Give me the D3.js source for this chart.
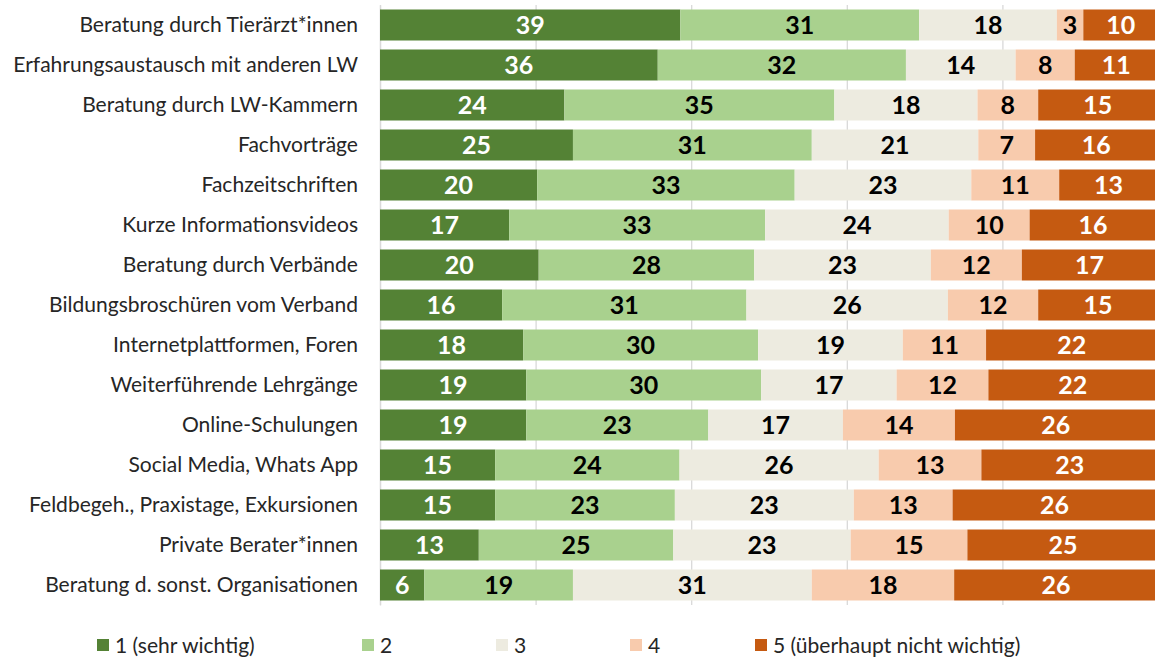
<!DOCTYPE html>
<html><head><meta charset="utf-8">
<script src="https://cdn.jsdelivr.net/npm/d3@7"></script>
<style>body{margin:0;background:#fff}svg{display:block}</style>
</head><body>
<svg id="chart" width="1155" height="659"></svg>
<script>
const categories = [
  "Beratung durch Tierärzt*innen",
  "Erfahrungsaustausch mit anderen LW",
  "Beratung durch LW-Kammern",
  "Fachvorträge",
  "Fachzeitschriften",
  "Kurze Informationsvideos",
  "Beratung durch Verbände",
  "Bildungsbroschüren vom Verband",
  "Internetplattformen, Foren",
  "Weiterführende Lehrgänge",
  "Online-Schulungen",
  "Social Media, Whats App",
  "Feldbegeh., Praxistage, Exkursionen",
  "Private Berater*innen",
  "Beratung d. sonst. Organisationen"
];
const levels = ["1 (sehr wichtig)", "2", "3", "4", "5 (überhaupt nicht wichtig)"];
// percentages (labels show rounded values)
const s1 = [38.6, 35.7, 23.7, 24.8, 20.2, 16.6, 20.4, 15.7, 18.4, 18.8, 18.8, 14.8, 14.8, 12.7, 5.7];
const s2 = [30.7, 31.9, 34.7, 30.7, 33.1, 32.9, 27.7, 31.4, 30.2, 30.2, 23.4, 23.7, 23.1, 25.0, 19.1];
const s3 = [17.7, 14.1, 18.4, 21.4, 22.7, 23.6, 22.7, 25.9, 18.6, 17.4, 17.3, 25.6, 23.0, 22.8, 30.7];
const s4 = [3.4, 7.6, 7.8, 7.3, 11.3, 10.4, 11.7, 11.6, 10.7, 11.8, 14.4, 13.2, 12.7, 15.0, 18.3];
const s5 = [9.6, 10.7, 15.3, 15.7, 12.7, 16.3, 17.4, 15.4, 22.0, 21.7, 25.9, 22.7, 26.2, 24.6, 26.2];
const xTicks = [0, 20, 40, 60, 80, 100];

const colors = ["#548235", "#A9D18E", "#EDEBE0", "#F8CBAD", "#C55A11"];
const labelColors = ["#ffffff", "#000000", "#000000", "#000000", "#ffffff"];
const FONT = "Lato, 'Open Sans', sans-serif";

const series = [s1, s2, s3, s4, s5];
const rows = categories.map((c, i) => {
  const r = {cat: c};
  levels.forEach((k, j) => r[k] = series[j][i]);
  return r;
});
const stacked = d3.stack().keys(levels)(rows);

const svg = d3.select("#chart");

function fitSize(text, target, weight) {
  const t = svg.append("text").attr("font-family", FONT).attr("font-size", 100)
    .attr("font-weight", weight).text(text);
  const w = t.node().getComputedTextLength();
  t.remove();
  return 100 * target / w;
}
const catSize = fitSize("Erfahrungsaustausch mit anderen LW", 345, 400);
const valSize = fitSize("39", 29, 700);

const x = d3.scaleLinear().domain([0, 100]).range([380, 1158]);
const y = d3.scaleBand().domain(categories).range([5, 605])
  .paddingInner(0.225).paddingOuter(0.1125);

// gridlines
const grid = svg.append("g").attr("transform", "translate(0,605)")
  .call(d3.axisBottom(x).tickValues(xTicks).tickSize(-600).tickFormat(""));
grid.select(".domain").remove();
grid.selectAll(".tick line").attr("stroke", "#D9D9D9").attr("stroke-width", 1.3);

// y axis
const yAxis = svg.append("g").attr("transform", "translate(380,0)")
  .call(d3.axisLeft(y).tickSize(0).tickPadding(22));
yAxis.select(".domain").attr("stroke", "#D9D9D9").attr("stroke-width", 1.3);
yAxis.selectAll("text").attr("font-family", FONT).attr("font-size", catSize)
  .attr("fill", "#262626");

// bars
const layers = svg.append("g").selectAll("g").data(stacked).join("g")
  .attr("fill", (d, i) => colors[i]);
layers.selectAll("rect").data(d => d).join("rect")
  .attr("x", d => x(d[0]))
  .attr("y", d => y(d.data.cat))
  .attr("width", d => x(d[1]) - x(d[0]))
  .attr("height", y.bandwidth());

// value labels
const lab = svg.append("g").selectAll("g").data(stacked).join("g")
  .attr("fill", (d, i) => labelColors[i]);
lab.selectAll("text").data(d => d).join("text")
  .attr("x", d => (x(d[0]) + x(d[1])) / 2)
  .attr("y", d => y(d.data.cat) + y.bandwidth() / 2)
  .attr("dy", "0.36em")
  .attr("text-anchor", "middle")
  .attr("font-family", FONT).attr("font-weight", 700).attr("font-size", valSize)
  .text(d => Math.round(d[1] - d[0]));

// legend
const legendX = [97, 362, 496, 630, 755];
const leg = svg.append("g").selectAll("g").data(levels).join("g")
  .attr("transform", (d, i) => `translate(${legendX[i]},645)`);
leg.append("rect").attr("x", 0).attr("y", -6).attr("width", 12).attr("height", 12)
  .attr("fill", (d, i) => colors[i]);
leg.append("text").attr("x", 18).attr("dy", "0.36em")
  .attr("font-family", FONT).attr("font-size", catSize).attr("fill", "#262626")
  .text(d => d);
</script>
</body></html>
